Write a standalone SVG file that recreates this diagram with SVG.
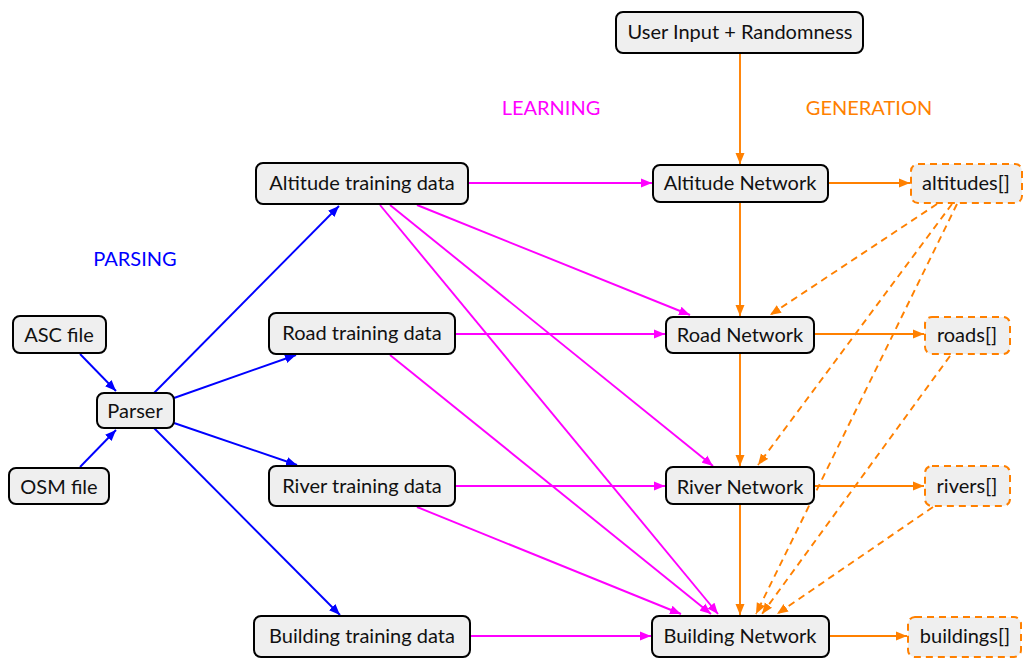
<svg xmlns="http://www.w3.org/2000/svg" width="1023" height="658" viewBox="0 0 1023 658">
<style>
.box{fill:#efefef;stroke:#000;stroke-width:2}
.dbox{fill:#efefef;stroke:#ff8000;stroke-width:2;stroke-dasharray:7 5}
.t{font-family:Lato,"Open Sans",sans-serif;font-size:20px;fill:#111;text-anchor:middle}
.lbl{font-family:Lato,"Open Sans",sans-serif;font-size:20px;text-anchor:middle}
.b{stroke:#0000ff;stroke-width:1.9;fill:none;marker-end:url(#aB)}
.m{stroke:#ff00ff;stroke-width:1.9;fill:none;marker-end:url(#aM)}
.o{stroke:#ff8000;stroke-width:1.9;fill:none;marker-end:url(#aO)}
.od{stroke:#ff8000;stroke-width:1.9;fill:none;stroke-dasharray:7 5;marker-end:url(#aO)}
</style>
<defs>
<marker id="aB" markerUnits="userSpaceOnUse" markerWidth="12" markerHeight="10" refX="11" refY="5" orient="auto"><path d="M0,0.5 L11,5 L0,9.5 z" fill="#0000ff"/></marker>
<marker id="aM" markerUnits="userSpaceOnUse" markerWidth="12" markerHeight="10" refX="11" refY="5" orient="auto"><path d="M0,0.5 L11,5 L0,9.5 z" fill="#ff00ff"/></marker>
<marker id="aO" markerUnits="userSpaceOnUse" markerWidth="12" markerHeight="10" refX="11" refY="5" orient="auto"><path d="M0,0.5 L11,5 L0,9.5 z" fill="#ff8000"/></marker>
</defs>
<rect width="1023" height="658" fill="#fff"/>
<text class="lbl" x="135" y="266" fill="#0000ff">PARSING</text>
<text class="lbl" x="551" y="115" fill="#ff00ff">LEARNING</text>
<text class="lbl" x="869" y="115" fill="#ff8000">GENERATION</text>
<g id="connectors">
<line class="b" x1="80" y1="354" x2="116" y2="391"/>
<line class="b" x1="80" y1="467" x2="116" y2="430"/>
<line class="b" x1="154" y1="393" x2="339" y2="206"/>
<line class="b" x1="174" y1="398" x2="296" y2="355"/>
<line class="b" x1="174" y1="423" x2="297" y2="465"/>
<line class="b" x1="154" y1="428" x2="340" y2="615"/>
<line class="m" x1="468" y1="183" x2="652" y2="183"/>
<line class="m" x1="417" y1="205" x2="690" y2="315"/>
<line class="m" x1="390" y1="205" x2="713" y2="466"/>
<line class="m" x1="380" y1="205" x2="718" y2="614"/>
<line class="m" x1="455" y1="334" x2="665" y2="334"/>
<line class="m" x1="390" y1="355" x2="711" y2="614"/>
<line class="m" x1="455" y1="486" x2="665" y2="486"/>
<line class="m" x1="417" y1="507" x2="681" y2="614"/>
<line class="m" x1="470" y1="636" x2="651" y2="636"/>
<line class="o" x1="740" y1="53" x2="740" y2="164"/>
<line class="o" x1="740" y1="202" x2="740" y2="316"/>
<line class="o" x1="740" y1="353" x2="740" y2="466"/>
<line class="o" x1="740" y1="505" x2="740" y2="615"/>
<line class="o" x1="828" y1="183" x2="910" y2="183"/>
<line class="o" x1="814" y1="334" x2="924" y2="334"/>
<line class="o" x1="814" y1="486" x2="924" y2="486"/>
<line class="o" x1="829" y1="636" x2="907" y2="636"/>
<line class="od" x1="937" y1="204" x2="770" y2="315"/>
<line class="od" x1="952" y1="204" x2="758" y2="465"/>
<line class="od" x1="957" y1="204" x2="756" y2="614"/>
<line class="od" x1="950" y1="356" x2="762" y2="614"/>
<line class="od" x1="933" y1="507" x2="777" y2="614"/>
</g>
<g id="user"><rect class="box" x="616" y="12" width="247" height="41" rx="7"/><text class="t" x="740" y="39">User Input + Randomness</text></g>
<g id="alt_train"><rect class="box" x="256" y="163" width="212" height="41" rx="7"/><text class="t" x="362" y="190">Altitude training data</text></g>
<g id="alt_net"><rect class="box" x="653" y="165" width="175" height="37" rx="7"/><text class="t" x="740" y="190">Altitude Network</text></g>
<g id="alts"><rect class="dbox" x="911" y="164" width="111" height="39" rx="7"/><text class="t" x="966" y="190">altitudes[]</text></g>
<g id="asc"><rect class="box" x="13" y="316" width="93" height="37" rx="7"/><text class="t" x="59" y="342">ASC file</text></g>
<g id="parser"><rect class="box" x="97" y="393" width="77" height="35" rx="7"/><text class="t" x="135" y="418">Parser</text></g>
<g id="osm"><rect class="box" x="9" y="468" width="100" height="36" rx="7"/><text class="t" x="59" y="494">OSM file</text></g>
<g id="road_train"><rect class="box" x="269" y="313" width="186" height="41" rx="7"/><text class="t" x="362" y="340">Road training data</text></g>
<g id="road_net"><rect class="box" x="666" y="317" width="148" height="36" rx="7"/><text class="t" x="740" y="342">Road Network</text></g>
<g id="roads"><rect class="dbox" x="925" y="317" width="85" height="37" rx="7"/><text class="t" x="967" y="342">roads[]</text></g>
<g id="river_train"><rect class="box" x="269" y="466" width="186" height="40" rx="7"/><text class="t" x="362" y="493">River training data</text></g>
<g id="river_net"><rect class="box" x="666" y="467" width="148" height="37" rx="7"/><text class="t" x="740" y="494">River Network</text></g>
<g id="rivers"><rect class="dbox" x="925" y="466" width="85" height="40" rx="7"/><text class="t" x="967" y="493">rivers[]</text></g>
<g id="bld_train"><rect class="box" x="254" y="616" width="216" height="41" rx="7"/><text class="t" x="362" y="643">Building training data</text></g>
<g id="bld_net"><rect class="box" x="652" y="616" width="177" height="41" rx="7"/><text class="t" x="740" y="643">Building Network</text></g>
<g id="blds"><rect class="dbox" x="908" y="617" width="113" height="40" rx="7"/><text class="t" x="965" y="643">buildings[]</text></g>
</svg>
